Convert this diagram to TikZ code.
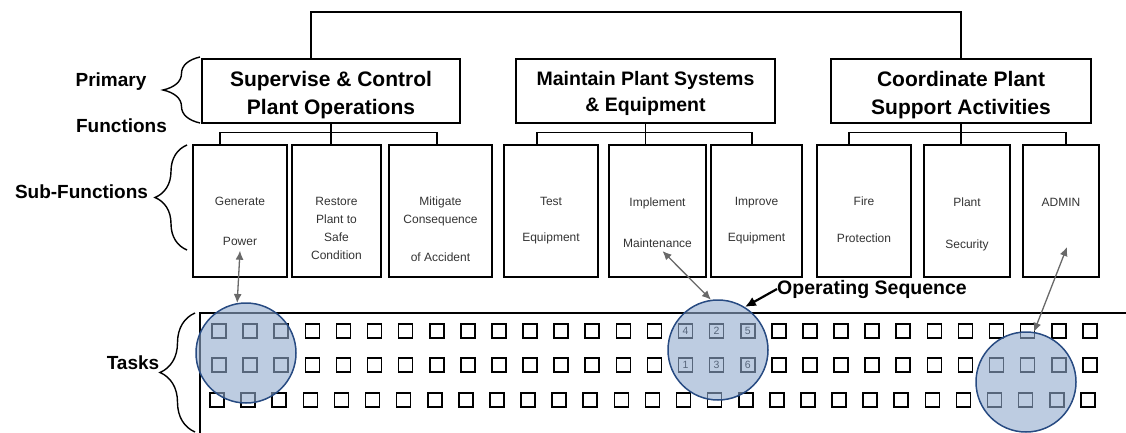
\documentclass[tikz,border=0pt]{standalone}
\usepackage{fontspec}
\setmainfont{Liberation Sans}
\usetikzlibrary{positioning,arrows.meta,decorations.pathreplacing}
\definecolor{focusblue}{RGB}{145, 170, 205}
\definecolor{focusedge}{RGB}{40, 75, 130}
\definecolor{linkgray}{RGB}{105, 105, 105}

\begin{document}
\begin{tikzpicture}[
        x=1pt, y=-1pt,
        primary/.style={rectangle, draw=black, line width=1.6pt, minimum height=64pt, inner sep=0pt, align=center, font=\bfseries\fontsize{21}{28}\selectfont},
        subfn/.style={rectangle, draw=black, line width=1.4pt, minimum height=132pt, inner sep=0pt},
        subtxt/.style={inner sep=0pt, align=center, text=black!80, font=\fontsize{12}{18}\selectfont},
        lbl/.style={inner sep=0pt, anchor=base, font=\bfseries\fontsize{19}{22}\selectfont},
        task/.style={rectangle, draw=black, line width=1.6pt, minimum size=14pt, inner sep=0pt},
        num/.style={inner sep=0pt, font=\fontsize{10.5}{10.5}\selectfont},
        focus/.style={circle, draw=focusedge, line width=1.5pt, fill=focusblue, fill opacity=0.6, draw opacity=1, minimum size=100pt, inner sep=0pt},
        link/.style={{Latex[length=9pt,width=8pt]}-{Latex[length=9pt,width=8pt]}, line width=1.3pt, color=linkgray},
        seq/.style={-{Latex[length=11pt,width=10pt]}, line width=2.2pt},
        tie/.style={line width=1.5pt},
        grp/.style={decorate, decoration={brace, amplitude=#1}, line width=1.4pt}
    ]
    \useasboundingbox (0,0) rectangle (1126,433);

    % Level labels
    \node[lbl] (lprim) at (111,87) {Primary};
    \node[lbl] (lfunc) at (121.5,132) {Functions};
    \node[lbl] (lsub) at (81.5,198) {Sub-Functions};
    \node[lbl] (ltask) at (133,369) {Tasks};
    \draw[grp=37pt] (200,123) -- (200,57);
    \draw[grp=32pt] (187,250) -- (187,145);
    \draw[grp=35pt] (195,432) -- (195,313);

    % Primary functions
    \node[primary, minimum width=258pt] (sup) at (331,91) {\rule{0pt}{23.6pt}Supervise \& Control\\Plant Operations};
    \node[primary, minimum width=259pt, font=\bfseries\fontsize{19.5}{26}\selectfont] (mnt) at (645.5,91) {\rule{0pt}{20pt}Maintain Plant Systems\\\& Equipment};
    \node[primary, minimum width=260pt] (crd) at (961,91) {\rule{0pt}{23.6pt}Coordinate Plant\\Support Activities};
    \coordinate (hub) at (640,12);
    \draw[tie] ([xshift=-20pt]sup.north) |- (hub) -| (crd.north);

    % Sub-functions
    \node[subfn, minimum width=94pt] (gen) at (240,211) {};
    \node[subfn, minimum width=89pt] (rst) at (336.5,211) {};
    \node[subfn, minimum width=103pt] (mit) at (440.5,211) {};
    \node[subfn, minimum width=94pt] (tst) at (551,211) {};
    \node[subfn, minimum width=97pt] (impl) at (657.5,211) {};
    \node[subfn, minimum width=91pt] (impr) at (756.5,211) {};
    \node[subfn, minimum width=94pt] (fire) at (864,211) {};
    \node[subfn, minimum width=86pt] (sec) at (967,211) {};
    \node[subfn, minimum width=76pt] (adm) at (1061,211) {};

    \node[subtxt, below=52.5pt of gen.north] (gen-t) {Generate\\[22pt]Power};
    \node[subtxt, below=52.5pt of rst.north] (rst-t) {Restore\\Plant to\\Safe\\Condition};
    \node[subtxt, below=52.5pt of mit.north] (mit-t) {Mitigate\\Consequence\\[20pt]of Accident};
    \node[subtxt, below=52.5pt of tst.north] (tst-t) {Test\\[18pt]Equipment};
    \node[subtxt, below=53.5pt of impl.north] (impl-t) {Implement\\[23pt]Maintenance};
    \node[subtxt, below=52.5pt of impr.north] (impr-t) {Improve\\[18pt]Equipment};
    \node[subtxt, below=52.5pt of fire.north] (fire-t) {Fire\\[19pt]Protection};
    \node[subtxt, below=53.5pt of sec.north] (sec-t) {Plant\\[24pt]Security};
    \node[subtxt, below=53.5pt of adm.north] (adm-t) {ADMIN};

    \draw[tie] (sup.south) -- (sup.south |- rst.north);
    \draw[tie] ([xshift=-20pt]gen.north) -- ++(0,-12) -| ([xshift=-3.5pt]mit.north);
    \draw[tie] (mnt.south) -- (mnt.south |- impl.north);
    \draw[tie] ([xshift=-14pt]tst.north) -- ++(0,-12) -| ([xshift=-4.5pt]impr.north);
    \draw[tie] (crd.south) -- (crd.south |- sec.north);
    \draw[tie] ([xshift=-15pt]fire.north) -- ++(0,-12) -| ([xshift=5pt]adm.north);

    % Tasks
    \draw[tie] (200,433) -- (200,313) -- (1126,313);
    \foreach \c in {0,...,28} {
        \node[task] (t-1-\c) at ({219+31.1*\c},331) {};
        \node[task] (t-2-\c) at ({219+31.1*\c},365) {};
        \node[task] (t-3-\c) at ({217+31.1*\c},400) {};
    }
    \foreach \c/\r/\n in {15/1/4, 16/1/2, 17/1/5, 15/2/1, 16/2/3, 17/2/6}
        \node[num] (n-\n) at (t-\r-\c) {\n};

    \node[focus] (c1) at (246,353) {};
    \node[focus] (c2) at (718,350) {};
    \node[focus] (c3) at (1026,382) {};

    % Links
    \draw[link] ([yshift=-5pt]gen-t.south) -- (c1.100);
    \draw[link] ([xshift=5pt,yshift=-3pt]impl-t.south) -- (c2.98);
    \draw[link] ([xshift=6pt,yshift=-36pt]adm.center) -- (c3.81);
    \node[lbl, font=\bfseries\fontsize{19.5}{22}\selectfont] (opseq) at (872,294) {Operating Sequence};
    \draw[seq] (opseq.west) -- (c2.58);

\end{tikzpicture}
\end{document}
